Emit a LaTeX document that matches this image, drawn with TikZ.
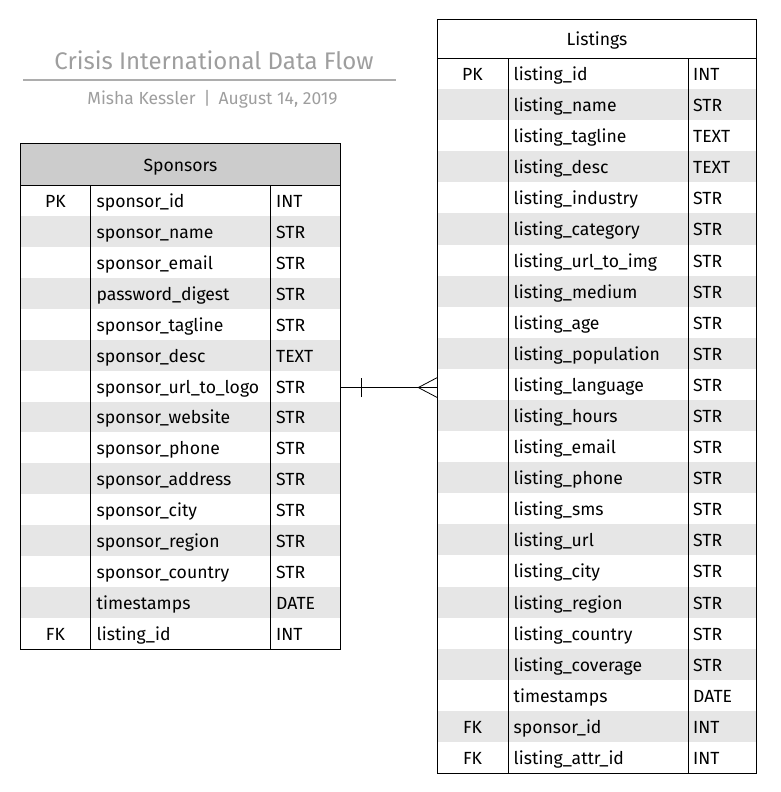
\documentclass[tikz,border=0pt]{standalone}
\usepackage{fontspec}
\setmainfont{Fira Sans}
\usetikzlibrary{positioning}

\definecolor{headgray}{HTML}{CCCCCC}
\definecolor{rowgray}{HTML}{E6E6E6}
\definecolor{titlegray}{HTML}{9E9E9E}

\begin{document}
\begin{tikzpicture}[
    x=1pt, y=-1pt,
    title text/.style={text=titlegray, anchor=base, inner sep=0pt, font=\fontsize{24}{28}\selectfont},
    sub text/.style={text=titlegray, anchor=base, inner sep=0pt, font=\fontsize{17.5}{20}\selectfont},
    row/.style={draw=none, inner sep=0pt, minimum width=319pt},
    head cell/.style={inner sep=0pt, font=\fontsize{17.6}{20}\selectfont, anchor=base},
    cell/.style={inner sep=0pt, font=\fontsize{17.6}{20}\selectfont, anchor=base west},
    key cell/.style={inner sep=0pt, font=\fontsize{17.6}{20}\selectfont, anchor=base},
    border/.style={draw=black, line width=0.8pt},
    ]
  \useasboundingbox (0,0) rectangle (780,792);

  % title
  \node[title text] (title) at (214,70) {Crisis International Data Flow};
  \coordinate (rule l) at (23,80);
  \coordinate (rule r) at (396,80);
  \draw[titlegray!85, line width=1.4pt] (rule l) -- (rule r);
  \node[sub text] (sub) at (212.5,104.5) {Misha Kessler\hspace{8pt}|\hspace{8pt}August 14, 2019};

  % Sponsors table
  \def\sh{30.93}
  \node[row, fill=headgray, minimum height=41pt] (s0) at (180.5,164.5) {};
  \node[head cell] (s title) at ([yshift=-7pt]s0.center) {Sponsors};
  \foreach \k/\n/\t [count=\i] in {
      PK/sponsor\_id/INT, /sponsor\_name/STR, /sponsor\_email/STR,
      /password\_digest/STR, /sponsor\_tagline/STR, /sponsor\_desc/TEXT,
      /sponsor\_url\_to\_logo/STR, /sponsor\_website/STR, /sponsor\_phone/STR,
      /sponsor\_address/STR, /sponsor\_city/STR, /sponsor\_region/STR,
      /sponsor\_country/STR, /timestamps/DATE, FK/listing\_id/INT} {
    \ifodd\i\def\rowfill{white}\else\def\rowfill{rowgray}\fi
    \node[row, fill=\rowfill, minimum height=\sh pt] (s\i) at (180.5,{185+(\i-0.5)*\sh}) {};
    \node[key cell] (s\i k) at ([yshift=-7pt]s\i.center -| 55.5,0) {\k};
    \node[cell] (s\i n) at ([yshift=-7pt]s\i.center -| 96.5,0) {\n};
    \node[cell] (s\i t) at ([yshift=-7pt]s\i.center -| 276,0) {\t};
  }
  \draw[border] (s0.north west) rectangle (s15.south east);
  \draw[border] (s0.south west) -- (s0.south east);
  \draw[border] (s0.south west -| 90,0) -- (s15.south west -| 90,0);
  \draw[border] (s0.south west -| 270,0) -- (s15.south west -| 270,0);

  % Listings table
  \def\lh{31.09}
  \node[row, fill=white, minimum height=38pt] (l0) at (597,39) {};
  \node[head cell] (l title) at ([yshift=-7pt]l0.center) {Listings};
  \foreach \k/\n/\t [count=\i] in {
      PK/listing\_id/INT, /listing\_name/STR, /listing\_tagline/TEXT,
      /listing\_desc/TEXT, /listing\_industry/STR, /listing\_category/STR,
      /listing\_url\_to\_img/STR, /listing\_medium/STR, /listing\_age/STR,
      /listing\_population/STR, /listing\_language/STR, /listing\_hours/STR,
      /listing\_email/STR, /listing\_phone/STR, /listing\_sms/STR,
      /listing\_url/STR, /listing\_city/STR, /listing\_region/STR,
      /listing\_country/STR, /listing\_coverage/STR, /timestamps/DATE,
      FK/sponsor\_id/INT, FK/listing\_attr\_id/INT} {
    \ifodd\i\def\rowfill{white}\else\def\rowfill{rowgray}\fi
    \node[row, fill=\rowfill, minimum height=\lh pt] (l\i) at (597,{58+(\i-0.5)*\lh}) {};
    \node[key cell] (l\i k) at ([yshift=-7pt]l\i.center -| 472.5,0) {\k};
    \node[cell] (l\i n) at ([yshift=-7pt]l\i.center -| 513.5,0) {\n};
    \node[cell] (l\i t) at ([yshift=-7pt]l\i.center -| 693,0) {\t};
  }
  \draw[border] (l0.north west) rectangle (l23.south east);
  \draw[border] (l0.south west) -- (l0.south east);
  \draw[border] (l0.south west -| 508,0) -- (l23.south west -| 508,0);
  \draw[border] (l0.south west -| 688,0) -- (l23.south west -| 688,0);

  % one-to-many connector
  \coordinate (c start) at ([yshift=-1.5pt]s7.east);
  \coordinate (c end) at (c start -| l11.west);
  \coordinate (c tick) at ([xshift=21pt]c start);
  \coordinate (c foot) at ([xshift=-19pt]c end);
  \draw[line width=0.8pt] (c start) -- (c end);
  \draw[line width=0.8pt] ([yshift=-9.5pt]c tick) -- ([yshift=9.5pt]c tick);
  \draw[line width=0.8pt] ([yshift=-10pt]c end) -- (c foot) -- ([yshift=10pt]c end);
\end{tikzpicture}
\end{document}
